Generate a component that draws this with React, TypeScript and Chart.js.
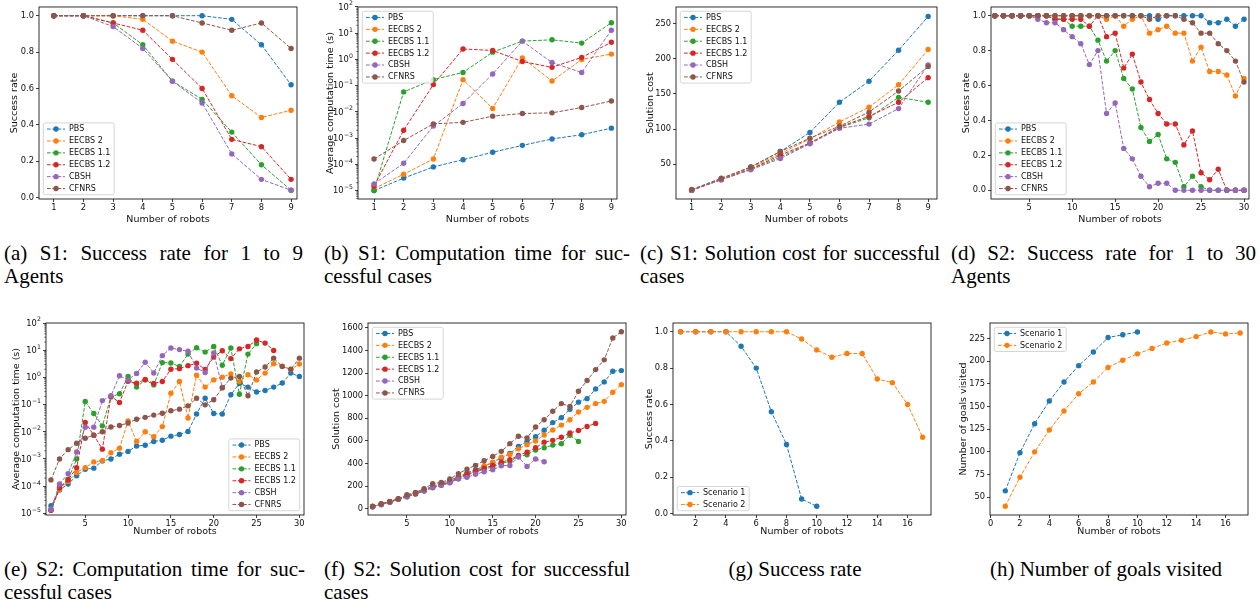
import React, { useEffect, useRef } from 'react';
import { Chart, registerables } from 'chart.js';

Chart.register(...registerables);
Chart.defaults.font.family = "'DejaVu Sans', sans-serif";

// ---------------- data ----------------
const METHODS = ['PBS', 'EECBS 2', 'EECBS 1.1', 'EECBS 1.2', 'CBSH', 'CFNRS'];
const SCENARIOS = ['Scenario 1', 'Scenario 2'];
const COLORS = ['#1f77b4', '#ff7f0e', '#2ca02c', '#d62728', '#9467bd', '#8c564b'];

const robotsS1 = [1, 2, 3, 4, 5, 6, 7, 8, 9];
const robotsS2 = [1, 2, 3, 4, 5, 6, 7, 8, 9, 10, 11, 12, 13, 14, 15, 16, 17, 18, 19, 20, 21, 22, 23, 24, 25, 26, 27, 28, 29, 30];
const robotsG1 = [1, 2, 3, 4, 5, 6, 7, 8, 9, 10];
const robotsG2 = [1, 2, 3, 4, 5, 6, 7, 8, 9, 10, 11, 12, 13, 14, 15, 16, 17];

// (a) S1 success rate
const s1RatePBS = [1, 1, 1, 1, 1, 1, 0.98, 0.84, 0.62];
const s1RateEECBS2 = [1, 1, 1, 0.98, 0.86, 0.8, 0.56, 0.44, 0.48];
const s1RateEECBS11 = [1, 1, 0.96, 0.84, 0.64, 0.54, 0.36, 0.18, 0.04];
const s1RateEECBS12 = [1, 1, 0.96, 0.92, 0.76, 0.6, 0.32, 0.28, 0.1];
const s1RateCBSH = [1, 1, 0.94, 0.82, 0.64, 0.52, 0.24, 0.1, 0.04];
const s1RateCFNRS = [1, 1, 1, 1, 1, 0.96, 0.92, 0.96, 0.82];

// (b) S1 computation time
const s1TimePBS = [1.0e-5, 3.0e-5, 8.0e-5, 1.5e-4, 2.9e-4, 5.3e-4, 9.3e-4, 1.35e-3, 2.4e-3];
const s1TimeEECBS2 = [1.2e-5, 4.2e-5, 1.6e-4, 0.17, 0.0135, 1.15, 0.15, 1.0, 1.6];
const s1TimeEECBS11 = [1.0e-5, 0.058, 0.17, 0.32, 1.9, 5.0, 5.6, 4.2, 25];
const s1TimeEECBS12 = [1.5e-5, 2.0e-3, 0.11, 2.5, 2.2, 0.83, 0.5, 1.2, 4.5];
const s1TimeCBSH = [1.8e-5, 1.1e-4, 2.9e-3, 0.021, 0.28, 5.0, 0.76, 0.32, 13];
const s1TimeCFNRS = [1.6e-4, 8.1e-4, 3.5e-3, 4.0e-3, 6.9e-3, 8.7e-3, 9.2e-3, 0.0147, 0.026];

// (c) S1 solution cost
const s1CostPBS = [13, 29, 46, 68, 95, 138, 168, 212, 260];
const s1CostEECBS2 = [13, 29, 45, 65, 86, 110, 131, 163, 213];
const s1CostEECBS11 = [13, 28, 43, 60, 80, 102, 116, 145, 138];
const s1CostEECBS12 = [13, 28, 43, 63, 80, 103, 118, 138, 173];
const s1CostCBSH = [13, 28, 42, 58, 79, 101, 107, 129, 191];
const s1CostCFNRS = [14, 30, 46, 68, 87, 104, 124, 154, 189];

// (d) S2 success rate
const s2RatePBS = [1, 1, 1, 1, 1, 1, 1, 1, 1, 1, 1, 1, 1, 1, 1, 1, 1, 1, 1, 0.98, 1, 1, 1, 1, 1, 0.96, 0.96, 0.98, 0.94, 0.98];
const s2RateEECBS2 = [1, 1, 1, 1, 1, 1, 1, 1, 1, 1, 1, 1, 1, 0.98, 1, 0.94, 0.98, 1, 0.9, 0.92, 0.94, 0.9, 0.9, 0.74, 0.82, 0.68, 0.68, 0.66, 0.54, 0.64];
const s2RateEECBS11 = [1, 1, 1, 1, 1, 1, 1, 0.98, 0.98, 0.94, 0.94, 0.94, 0.86, 0.74, 0.8, 0.64, 0.58, 0.36, 0.28, 0.32, 0.18, 0.16, 0.02, 0.08, 0.02, 0, 0, 0, 0, 0];
const s2RateEECBS12 = [1, 1, 1, 1, 1, 1, 1, 0.98, 0.98, 0.98, 0.98, 0.94, 1, 0.88, 0.9, 0.7, 0.78, 0.62, 0.52, 0.44, 0.38, 0.38, 0.26, 0.34, 0.1, 0.06, 0.12, 0, 0, 0];
const s2RateCBSH = [1, 1, 1, 1, 1, 0.98, 0.96, 0.96, 0.92, 0.88, 0.84, 0.72, 0.8, 0.44, 0.5, 0.24, 0.18, 0.08, 0.02, 0.04, 0.04, 0, 0, 0, 0, 0, 0, 0, 0, 0];
const s2RateCFNRS = [1, 1, 1, 1, 1, 1, 1, 1, 1, 1, 1, 1, 1, 1, 1, 1, 1, 1, 0.98, 1, 1, 1, 0.98, 0.96, 0.9, 0.9, 0.84, 0.8, 0.74, 0.62];

// (e) S2 computation time
const s2TimePBS = [1.9e-5, 7.2e-5, 1.2e-4, 2.4e-4, 4.2e-4, 4.6e-4, 8.5e-4, 1.0e-3, 1.5e-3, 1.9e-3, 3.0e-3, 3.2e-3, 4.4e-3, 4.9e-3, 6.9e-3, 7.9e-3, 0.0103, 0.045, 0.17, 0.047, 0.045, 0.23, 0.6, 0.44, 0.29, 0.33, 0.44, 0.62, 1.44, 1.08];
const s2TimeEECBS2 = [1.4e-5, 7.5e-5, 1.5e-4, 3.2e-4, 4.8e-4, 7.8e-4, 8.7e-4, 1.7e-3, 2.5e-3, 0.025, 4.4e-3, 0.01, 6.6e-3, 0.0155, 0.26, 0.71, 0.032, 1.2, 0.44, 0.81, 1.02, 1.35, 0.7, 1.25, 0.81, 1.44, 3.2, 2.6, 1.95, 3.1];
const s2TimeEECBS11 = [1.3e-5, 9.1e-5, 1.8e-4, 1.0e-3, 0.13, 0.047, 0.0165, 0.19, 0.25, 1.08, 0.44, 0.81, 0.53, 3.5, 3.4, 2.5, 7.2, 12.3, 8.5, 13.7, 2.8, 12, 0.24, 7.2, 17.4];
const s2TimeEECBS12 = [1.3e-5, 8.5e-5, 1.7e-4, 4.8e-4, 0.022, 7.5e-3, 2.3e-3, 0.2, 0.12, 0.72, 0.61, 0.84, 0.6, 0.71, 2.0, 2.1, 2.7, 3.3, 1.95, 5.6, 9.6, 4.9, 11.2, 13.7, 23.6, 18.2, 9.8];
const s2TimeCBSH = [1.4e-5, 1.2e-4, 2.9e-4, 1.8e-3, 0.0148, 0.0148, 0.14, 0.21, 1.15, 0.81, 1.4, 3.6, 1.45, 6.3, 12.1, 10.5, 9.1, 2.2, 1.52, 7.9, 0.43];
const s2TimeCFNRS = [1.7e-4, 1.0e-3, 2.2e-3, 3.8e-3, 5.8e-3, 7.5e-3, 0.01, 0.015, 0.017, 0.021, 0.029, 0.034, 0.041, 0.048, 0.059, 0.068, 0.09, 0.17, 0.098, 0.15, 0.41, 0.94, 1.08, 0.21, 1.57, 2.4, 5.1, 2.5, 2.0, 5.1];

// (f) S2 solution cost
const s2CostPBS = [20, 40, 62, 88, 112, 138, 168, 200, 225, 250, 285, 318, 345, 375, 410, 450, 490, 552, 596, 638, 695, 762, 806, 880, 943, 974, 1060, 1122, 1216, 1222];
const s2CostEECBS2 = [21, 40, 62, 88, 110, 135, 162, 195, 215, 240, 275, 305, 330, 380, 410, 457, 481, 530, 567, 600, 652, 697, 740, 788, 856, 897, 930, 950, 1030, 1098];
const s2CostEECBS11 = [20, 38, 58, 84, 105, 130, 158, 186, 207, 232, 268, 298, 325, 350, 370, 400, 420, 462, 478, 520, 540, 563, 576, 650, 596];
const s2CostEECBS12 = [20, 40, 60, 85, 108, 132, 160, 190, 210, 235, 275, 305, 332, 358, 383, 412, 433, 472, 501, 540, 588, 605, 632, 670, 692, 728, 755];
const s2CostCBSH = [15, 36, 58, 86, 109, 139, 159, 189, 207, 230, 263, 278, 305, 328, 345, 381, 383, 458, 375, 440, 416];
const s2CostCFNRS = [21, 44, 65, 89, 124, 145, 177, 221, 233, 263, 310, 351, 384, 425, 463, 508, 576, 641, 626, 723, 788, 862, 930, 906, 1039, 1134, 1231, 1317, 1511, 1565];

// (g) success rate per scenario
const rateScenario1 = [1, 1, 1, 1, 0.92, 0.8, 0.56, 0.38, 0.08, 0.04];
const rateScenario2 = [1, 1, 1, 1, 1, 1, 1, 1, 0.96, 0.9, 0.86, 0.88, 0.88, 0.74, 0.72, 0.6, 0.42];

// (h) goals visited per scenario
const goalsScenario1 = [57, 99, 131, 156, 177, 195, 210, 226, 229, 232];
const goalsScenario2 = [40, 72, 100, 124, 145, 164, 177, 193, 201, 208, 214, 220, 223, 227, 232, 230, 231];

// tick values
const ticksS1X = [1, 2, 3, 4, 5, 6, 7, 8, 9];
const ticksS2X = [5, 10, 15, 20, 25, 30];
const ticksGX = [2, 4, 6, 8, 10, 12, 14, 16];
const ticksHX = [0, 2, 4, 6, 8, 10, 12, 14, 16];
const ticksRate = [0, 0.2, 0.4, 0.6, 0.8, 1.0];
const ticksLog = [1e-5, 1e-4, 1e-3, 1e-2, 1e-1, 1e0, 1e1, 1e2];
const ticksCostS1 = [50, 100, 150, 200, 250];
const ticksCostS2 = [0, 200, 400, 600, 800, 1000, 1200, 1400, 1600];
const ticksGoals = [50, 75, 100, 125, 150, 175, 200, 225];

// ---------------- styling / layout ----------------
const TXT = '#111111';
const TICK_SIZE = 8.3;
const EXP_SIZE = 6.2;
const TITLE_SIZE = 9.5;
const LEG_SIZE = 8;
const DASH = [3.7, 1.6];
const PT_R = 2.7;

type Fmt = 'f1' | 'int' | 'log';

interface PanelDef {
  id: string;
  cx: number; cy: number; cw: number; ch: number;
  l: number; t: number; r: number; b: number;
  xMin: number; xMax: number; yMin: number; yMax: number;
  log?: boolean;
  xTicks: number[]; yTicks: number[];
  fmt: Fmt;
  yTitle: string;
  legend: string;
  names: string[];
  xs: number[][];
  ys: number[][];
}

const TOP = { cy: 0, ch: 225, t: 6, b: 199 };
const BOT = { cy: 300, ch: 237, t: 323, b: 515 };
const S1X = [robotsS1, robotsS1, robotsS1, robotsS1, robotsS1, robotsS1];
const S2X = [robotsS2, robotsS2, robotsS2, robotsS2, robotsS2, robotsS2];

const PANELS: PanelDef[] = [
  { id: 'a', cx: 9, cw: 301, l: 39, r: 297, ...TOP, xMin: 0.5, xMax: 9.2, yMin: -0.008, yMax: 1.048, xTicks: ticksS1X, yTicks: ticksRate, fmt: 'f1', yTitle: 'Success rate', legend: 'll', names: METHODS, xs: S1X, ys: [s1RatePBS, s1RateEECBS2, s1RateEECBS11, s1RateEECBS12, s1RateCBSH, s1RateCFNRS] },
  { id: 'b', cx: 325, cw: 307, l: 358, r: 617, ...TOP, xMin: 0.46, xMax: 9.19, yMin: Math.pow(10, -5.32), yMax: 100, log: true, xTicks: ticksS1X, yTicks: ticksLog, fmt: 'log', yTitle: 'Average computation time (s)', legend: 'ul', names: METHODS, xs: S1X, ys: [s1TimePBS, s1TimeEECBS2, s1TimeEECBS11, s1TimeEECBS12, s1TimeCBSH, s1TimeCFNRS] },
  { id: 'c', cx: 645, cw: 303, l: 676, r: 937, ...TOP, xMin: 0.47, xMax: 9.3, yMin: 0.5, yMax: 273.5, xTicks: ticksS1X, yTicks: ticksCostS1, fmt: 'int', yTitle: 'Solution cost', legend: 'ul', names: METHODS, xs: S1X, ys: [s1CostPBS, s1CostEECBS2, s1CostEECBS11, s1CostEECBS12, s1CostCBSH, s1CostCFNRS] },
  { id: 'd', cx: 961, cw: 299, l: 991, r: 1249, ...TOP, xMin: 0.55, xMax: 30.58, yMin: -0.05, yMax: 1.05, xTicks: ticksS2X, yTicks: ticksRate, fmt: 'f1', yTitle: 'Success rate', legend: 'll', names: METHODS, xs: S2X, ys: [s2RatePBS, s2RateEECBS2, s2RateEECBS11, s2RateEECBS12, s2RateCBSH, s2RateCFNRS] },
  { id: 'e', cx: 11, cw: 305, l: 46, r: 304, ...BOT, xMin: 0.42, xMax: 30.54, yMin: Math.pow(10, -5.06), yMax: 100, log: true, xTicks: ticksS2X, yTicks: ticksLog, fmt: 'log', yTitle: 'Average computation time (s)', legend: 'lr', names: METHODS, xs: S2X, ys: [s2TimePBS, s2TimeEECBS2, s2TimeEECBS11, s2TimeEECBS12, s2TimeCBSH, s2TimeCFNRS] },
  { id: 'f', cx: 331, cw: 307, l: 368, r: 626, ...BOT, xMin: 0.46, xMax: 30.54, yMin: -55, yMax: 1643, xTicks: ticksS2X, yTicks: ticksCostS2, fmt: 'int', yTitle: 'Solution cost', legend: 'ul', names: METHODS, xs: S2X, ys: [s2CostPBS, s2CostEECBS2, s2CostEECBS11, s2CostEECBS12, s2CostCBSH, s2CostCFNRS] },
  { id: 'g', cx: 644, cw: 301, l: 673, r: 931, ...BOT, xMin: 0.5, xMax: 17.55, yMin: -0.008, yMax: 1.048, xTicks: ticksGX, yTicks: ticksRate, fmt: 'f1', yTitle: 'Success rate', legend: 'll', names: SCENARIOS, xs: [robotsG1, robotsG2], ys: [rateScenario1, rateScenario2] },
  { id: 'h', cx: 958, cw: 302, l: 990, r: 1248, ...BOT, xMin: -0.04, xMax: 17.53, yMin: 30.4, yMax: 242, xTicks: ticksHX, yTicks: ticksGoals, fmt: 'int', yTitle: 'Number of goals visited', legend: 'ul', names: SCENARIOS, xs: [robotsG1, robotsG2], ys: [goalsScenario1, goalsScenario2] },
];

const CAPTIONS = [
  { x: 4, y: 241.5, w: 299, l1: '(a) S1: Success rate for 1 to 9', l2: 'Agents' },
  { x: 324, y: 241.5, w: 306, l1: '(b) S1: Computation time for suc-', l2: 'cessful cases' },
  { x: 640, y: 241.5, w: 300, l1: '(c) S1: Solution cost for successful', l2: 'cases' },
  { x: 951, y: 241.5, w: 305, l1: '(d) S2: Success rate for 1 to 30', l2: 'Agents' },
  { x: 4, y: 557.5, w: 301, l1: '(e) S2: Computation time for suc-', l2: 'cessful cases' },
  { x: 324, y: 557.5, w: 306, l1: '(f) S2: Solution cost for successful', l2: 'cases' },
];
const CENTER_CAPTIONS = [
  { cx: 795, y: 557.5, text: '(g) Success rate' },
  { cx: 1106, y: 557.5, text: '(h) Number of goals visited' },
];

// ---------------- plugin: spines, log tick labels, minor log ticks, matplotlib-like legend ----------------
const mplPlugin = {
  id: 'mpl',
  afterDraw(chart: any, _args: any, opts: any) {
    const { ctx, chartArea: a } = chart;
    ctx.save();
    if (opts.log) {
      const ys = chart.scales.y;
      ctx.strokeStyle = TXT;
      ctx.lineWidth = 0.6;
      for (let d = -7; d <= 3; d++) {
        for (let m = 2; m <= 9; m++) {
          const v = m * Math.pow(10, d);
          if (v < ys.min || v > ys.max) continue;
          const y = ys.getPixelForValue(v);
          ctx.beginPath();
          ctx.moveTo(a.left - 1.8, y);
          ctx.lineTo(a.left, y);
          ctx.stroke();
        }
      }
      // decade labels 10^n with a raised, smaller exponent
      ctx.fillStyle = TXT;
      ctx.textAlign = 'right';
      ctx.textBaseline = 'middle';
      ys.ticks.forEach((t: any) => {
        const y = ys.getPixelForValue(t.value);
        const e = Math.round(Math.log10(t.value));
        const exp = e < 0 ? '\u2212' + String(-e) : String(e);
        ctx.font = `${EXP_SIZE}px 'DejaVu Sans'`;
        const ew = ctx.measureText(exp).width;
        const xr = a.left - 5;
        ctx.fillText(exp, xr, y - 3.2);
        ctx.font = `${TICK_SIZE}px 'DejaVu Sans'`;
        ctx.fillText('10', xr - ew - 0.3, y + 0.6);
      });
    }
    ctx.strokeStyle = '#1a1a1a';
    ctx.lineWidth = 0.9;
    ctx.setLineDash([]);
    ctx.strokeRect(a.left, a.top, a.right - a.left, a.bottom - a.top);

    const corner: string = opts.corner;
    if (corner) {
      const ds = chart.data.datasets;
      ctx.font = `${LEG_SIZE}px 'DejaVu Sans'`;
      const tw = Math.max(...ds.map((d: any) => ctx.measureText(d.label).width));
      const rowH = 11.9;
      const w = 26 + tw + 3.5;
      const h = (ds.length - 1) * rowH + 12.3;
      const off = 4.3;
      const lx = corner[1] === 'l' ? a.left + off : a.right - off - w;
      const ty = corner[0] === 'u' ? a.top + off : a.bottom - off - h;
      const rr = 2;
      ctx.beginPath();
      ctx.moveTo(lx + rr, ty);
      ctx.lineTo(lx + w - rr, ty);
      ctx.quadraticCurveTo(lx + w, ty, lx + w, ty + rr);
      ctx.lineTo(lx + w, ty + h - rr);
      ctx.quadraticCurveTo(lx + w, ty + h, lx + w - rr, ty + h);
      ctx.lineTo(lx + rr, ty + h);
      ctx.quadraticCurveTo(lx, ty + h, lx, ty + h - rr);
      ctx.lineTo(lx, ty + rr);
      ctx.quadraticCurveTo(lx, ty, lx + rr, ty);
      ctx.closePath();
      ctx.fillStyle = 'rgba(255,255,255,0.8)';
      ctx.fill();
      ctx.strokeStyle = '#cccccc';
      ctx.lineWidth = 0.8;
      ctx.stroke();
      ds.forEach((d: any, i: number) => {
        const cy = ty + 6.15 + i * rowH;
        ctx.strokeStyle = d.borderColor;
        ctx.lineWidth = 1;
        ctx.setLineDash(DASH);
        ctx.beginPath();
        ctx.moveTo(lx + 3.7, cy);
        ctx.lineTo(lx + 21.7, cy);
        ctx.stroke();
        ctx.setLineDash([]);
        ctx.fillStyle = d.borderColor;
        ctx.beginPath();
        ctx.arc(lx + 12.7, cy, PT_R, 0, Math.PI * 2);
        ctx.fill();
        ctx.fillStyle = TXT;
        ctx.font = `${LEG_SIZE}px 'DejaVu Sans'`;
        ctx.textAlign = 'left';
        ctx.textBaseline = 'middle';
        ctx.fillText(d.label, lx + 25.7, cy + 0.3);
      });
    }
    ctx.restore();
  },
};

function fmtTick(fmt: Fmt, v: number): string {
  if (fmt === 'log') return '';
  if (fmt === 'f1') return v.toFixed(1);
  return String(v);
}

function ChartPanel({ p }: { p: PanelDef }) {
  const ref = useRef<HTMLCanvasElement | null>(null);
  useEffect(() => {
    if (!ref.current) return;
    const grid = {
      display: true,
      drawOnChartArea: false,
      drawTicks: true,
      tickLength: 3,
      tickWidth: 0.8,
      tickColor: TXT,
      color: 'rgba(0,0,0,0)',
    };
    const datasets = p.names.map((name, i) => {
      const ys = p.ys[i];
      const xs = p.xs[i];
      return {
        label: name,
        data: ys.map((y, j) => ({ x: xs[j], y })),
        borderColor: COLORS[i],
        backgroundColor: COLORS[i],
        borderWidth: 1,
        borderDash: DASH,
        pointRadius: PT_R,
        pointHoverRadius: PT_R,
        pointBorderWidth: 0,
        pointBackgroundColor: COLORS[i],
        tension: 0,
        fill: false,
        order: p.names.length - i,
      };
    });
    const chart = new Chart(ref.current, {
      type: 'line',
      data: { datasets },
      options: {
        responsive: false,
        animation: false,
        events: [],
        layout: {
          padding: { left: 0, top: p.t - p.cy, right: p.cx + p.cw - p.r, bottom: 0 },
        },
        plugins: {
          legend: { display: false },
          tooltip: { enabled: false },
          mpl: { corner: p.legend, log: !!p.log },
        } as any,
        scales: {
          x: {
            type: 'linear',
            bounds: 'data',
            min: p.xMin,
            max: p.xMax,
            afterBuildTicks: (s: any) => {
              s.ticks = p.xTicks.map((v) => ({ value: v }));
            },
            afterFit: (s: any) => {
              s.height = p.cy + p.ch - p.b;
            },
            ticks: {
              autoSkip: false,
              maxRotation: 0,
              padding: 1,
              color: TXT,
              font: { size: TICK_SIZE },
              callback: (v: any) => String(v),
            },
            grid,
            border: { display: false },
            title: {
              display: true,
              text: 'Number of robots',
              color: TXT,
              padding: 0,
              font: { size: TITLE_SIZE, lineHeight: 1.2 },
            },
          },
          y: {
            type: p.log ? 'logarithmic' : 'linear',
            bounds: 'data',
            min: p.yMin,
            max: p.yMax,
            afterBuildTicks: (s: any) => {
              s.ticks = p.yTicks.map((v) => ({ value: v }));
            },
            afterFit: (s: any) => {
              s.width = p.l - p.cx;
            },
            ticks: {
              autoSkip: false,
              padding: 2,
              color: TXT,
              font: { size: TICK_SIZE },
              callback: (v: any) => fmtTick(p.fmt, Number(v)),
            },
            grid,
            border: { display: false },
            title: {
              display: true,
              text: p.yTitle,
              color: TXT,
              padding: 0,
              font: { size: TITLE_SIZE, lineHeight: 1.2 },
            },
          },
        } as any,
      },
      plugins: [mplPlugin],
    });
    return () => chart.destroy();
  }, [p]);
  return (
    <canvas
      ref={ref}
      width={p.cw}
      height={p.ch}
      style={{ position: 'absolute', left: p.cx, top: p.cy, width: p.cw, height: p.ch }}
    />
  );
}

const capFont: React.CSSProperties = {
  fontFamily: "'Liberation Serif', 'Times New Roman', serif",
  fontSize: 21,
  lineHeight: '23px',
  color: '#000',
  whiteSpace: 'nowrap',
};

export default function App() {
  return (
    <div style={{ position: 'absolute', left: 0, top: 0, width: 1260, height: 605, background: '#fff', overflow: 'hidden' }}>
      {PANELS.map((p) => (
        <ChartPanel key={p.id} p={p} />
      ))}
      {CAPTIONS.map((c) => (
        <div key={c.l1} style={{ ...capFont, position: 'absolute', left: c.x, top: c.y, width: c.w }}>
          <div style={{ textAlign: 'justify', textAlignLast: 'justify', whiteSpace: 'normal' }}>{c.l1}</div>
          <div>{c.l2}</div>
        </div>
      ))}
      {CENTER_CAPTIONS.map((c) => (
        <div key={c.text} style={{ ...capFont, position: 'absolute', left: c.cx - 200, top: c.y, width: 400, textAlign: 'center' }}>
          {c.text}
        </div>
      ))}
    </div>
  );
}
